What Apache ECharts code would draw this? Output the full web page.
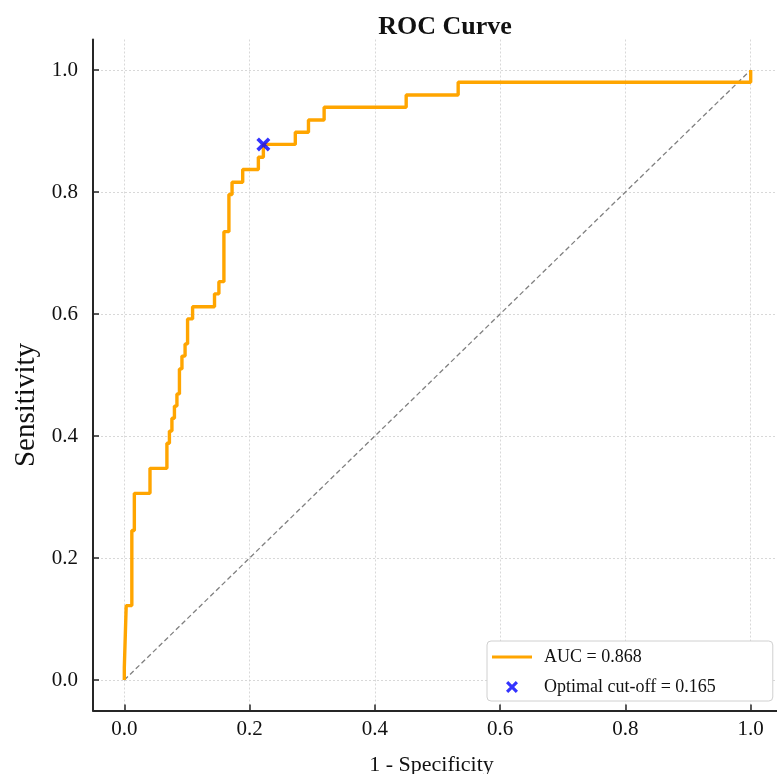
<!DOCTYPE html>
<html>
<head>
<meta charset="utf-8">
<script src="https://cdn.jsdelivr.net/npm/echarts@6/dist/echarts.min.js"></script>
<style>
  html, body { margin: 0; padding: 0; background: #fff; }
  #chart { width: 777px; height: 774px; }
</style>
</head>
<body>
<div id="chart"></div>
<script>
// ROC 曲线的拐点 (1 - 特异度, 灵敏度)
var fpr = [0, 0, 0.003, 0.003, 0.012, 0.012, 0.016, 0.016, 0.041, 0.041, 0.068, 0.068,
  0.072, 0.072, 0.076, 0.076, 0.080, 0.080, 0.084, 0.084, 0.088, 0.088, 0.092, 0.092,
  0.097, 0.097, 0.101, 0.101, 0.109, 0.109, 0.144, 0.144, 0.151, 0.151, 0.159, 0.159,
  0.167, 0.167, 0.172, 0.172, 0.189, 0.189, 0.214, 0.214, 0.222, 0.222, 0.273, 0.273,
  0.294, 0.294, 0.319, 0.319, 0.450, 0.450, 0.533, 0.533, 1.0, 1.0];
var tpr = [0, 0.020, 0.020, 0.122, 0.122, 0.245, 0.245, 0.306, 0.306, 0.347, 0.347, 0.388,
  0.388, 0.408, 0.408, 0.429, 0.429, 0.449, 0.449, 0.469, 0.469, 0.510, 0.510, 0.531,
  0.531, 0.551, 0.551, 0.592, 0.592, 0.612, 0.612, 0.633, 0.633, 0.653, 0.653, 0.735,
  0.735, 0.796, 0.796, 0.816, 0.816, 0.837, 0.837, 0.857, 0.857, 0.878, 0.878, 0.898,
  0.898, 0.918, 0.918, 0.939, 0.939, 0.959, 0.959, 0.980, 0.980, 1.0];
// 对角参考线
var diagX = [0, 1];
var diagY = [0, 1];
// 最佳截断点
var cutX = [0.222];
var cutY = [0.878];
var aucLabel = 'AUC = 0.868';
var cutLabel = 'Optimal cut-off = 0.165';
var tickValues = [0, 0.2, 0.4, 0.6, 0.8, 1.0];

var serif = '"Liberation Serif", "Times New Roman", serif';
var xPath = 'M0,2.2 L2.2,0 L12,9.8 L9.8,12 Z M9.8,0 L12,2.2 L2.2,12 L0,9.8 Z';

function zip(a, b) {
  return a.map(function (v, i) { return [v, b[i]]; });
}

function axisCommon() {
  return {
    type: 'value',
    min: -0.05,
    max: 1.05,
    axisLine: { show: true, onZero: false, lineStyle: { color: '#262626', width: 2 } },
    axisTick: { show: true, inside: true, length: 6, customValues: tickValues,
      lineStyle: { color: '#262626', width: 1.5 } },
    axisLabel: { customValues: tickValues, fontFamily: serif, fontSize: 21, color: '#111',
      formatter: function (v) { return v.toFixed(1); } },
    splitLine: { show: true, lineStyle: { color: '#cfcfcf', type: [2, 2], width: 0.8 } },
    nameTextStyle: { fontFamily: serif, color: '#111' },
    nameLocation: 'middle'
  };
}

var xAxis = axisCommon();
xAxis.name = '1 - Specificity';
xAxis.nameGap = 44;
xAxis.nameTextStyle.fontSize = 22;
xAxis.nameTextStyle.padding = [0, 12, 0, 0];
xAxis.axisLabel.margin = 8;

var yAxis = axisCommon();
yAxis.name = 'Sensitivity';
yAxis.nameGap = 51;
yAxis.nameTextStyle.fontSize = 29;
yAxis.nameTextStyle.padding = [0, 60, 0, 0];
yAxis.axisLabel.margin = 15;

var chart = echarts.init(document.getElementById('chart'), null, { renderer: 'canvas' });
chart.setOption({
  animation: false,
  backgroundColor: '#fff',
  title: {
    text: 'ROC Curve',
    left: 440,
    textAlign: 'center',
    top: 9,
    textStyle: { fontFamily: serif, fontSize: 26, fontWeight: 'bold', color: '#111' }
  },
  grid: { left: 93, top: 39.5, width: 689, height: 671, containLabel: false, outerBoundsMode: 'none' },
  xAxis: xAxis,
  yAxis: yAxis,
  legend: {
    orient: 'vertical',
    left: 487,
    top: 641,
    padding: [6, 57, 4, 5],
    itemGap: 10,
    itemWidth: 40,
    itemHeight: 14,
    itemStyle: { borderWidth: 0 },
    backgroundColor: '#fff',
    borderColor: '#d0d0d0',
    borderWidth: 1,
    borderRadius: 4,
    textStyle: { fontFamily: serif, fontSize: 18, color: '#111', lineHeight: 20, padding: [0, 0, 0, 7] },
    data: [
      { name: aucLabel, icon: 'path://M0,0 M40,14 M0,5.5 L40,5.5 L40,8.5 L0,8.5 Z' },
      { name: cutLabel, icon: 'path://M-14,-1 M26,13 ' + xPath }
    ]
  },
  series: [
    {
      type: 'line',
      name: 'diag',
      data: zip(diagX, diagY),
      symbol: 'none',
      lineStyle: { color: '#808080', width: 1.3, type: [5, 3] },
      silent: true,
      z: 2
    },
    {
      type: 'line',
      name: aucLabel,
      data: zip(fpr, tpr),
      symbol: 'none',
      color: '#FFA500',
      lineStyle: { color: '#FFA500', width: 3.4 },
      z: 3
    },
    {
      type: 'scatter',
      name: cutLabel,
      data: zip(cutX, cutY),
      symbol: 'path://' + xPath,
      symbolSize: 14,
      color: '#0000ff',
      itemStyle: { color: '#0000ff' },
      z: 4
    }
  ]
});
</script>
</body>
</html>
